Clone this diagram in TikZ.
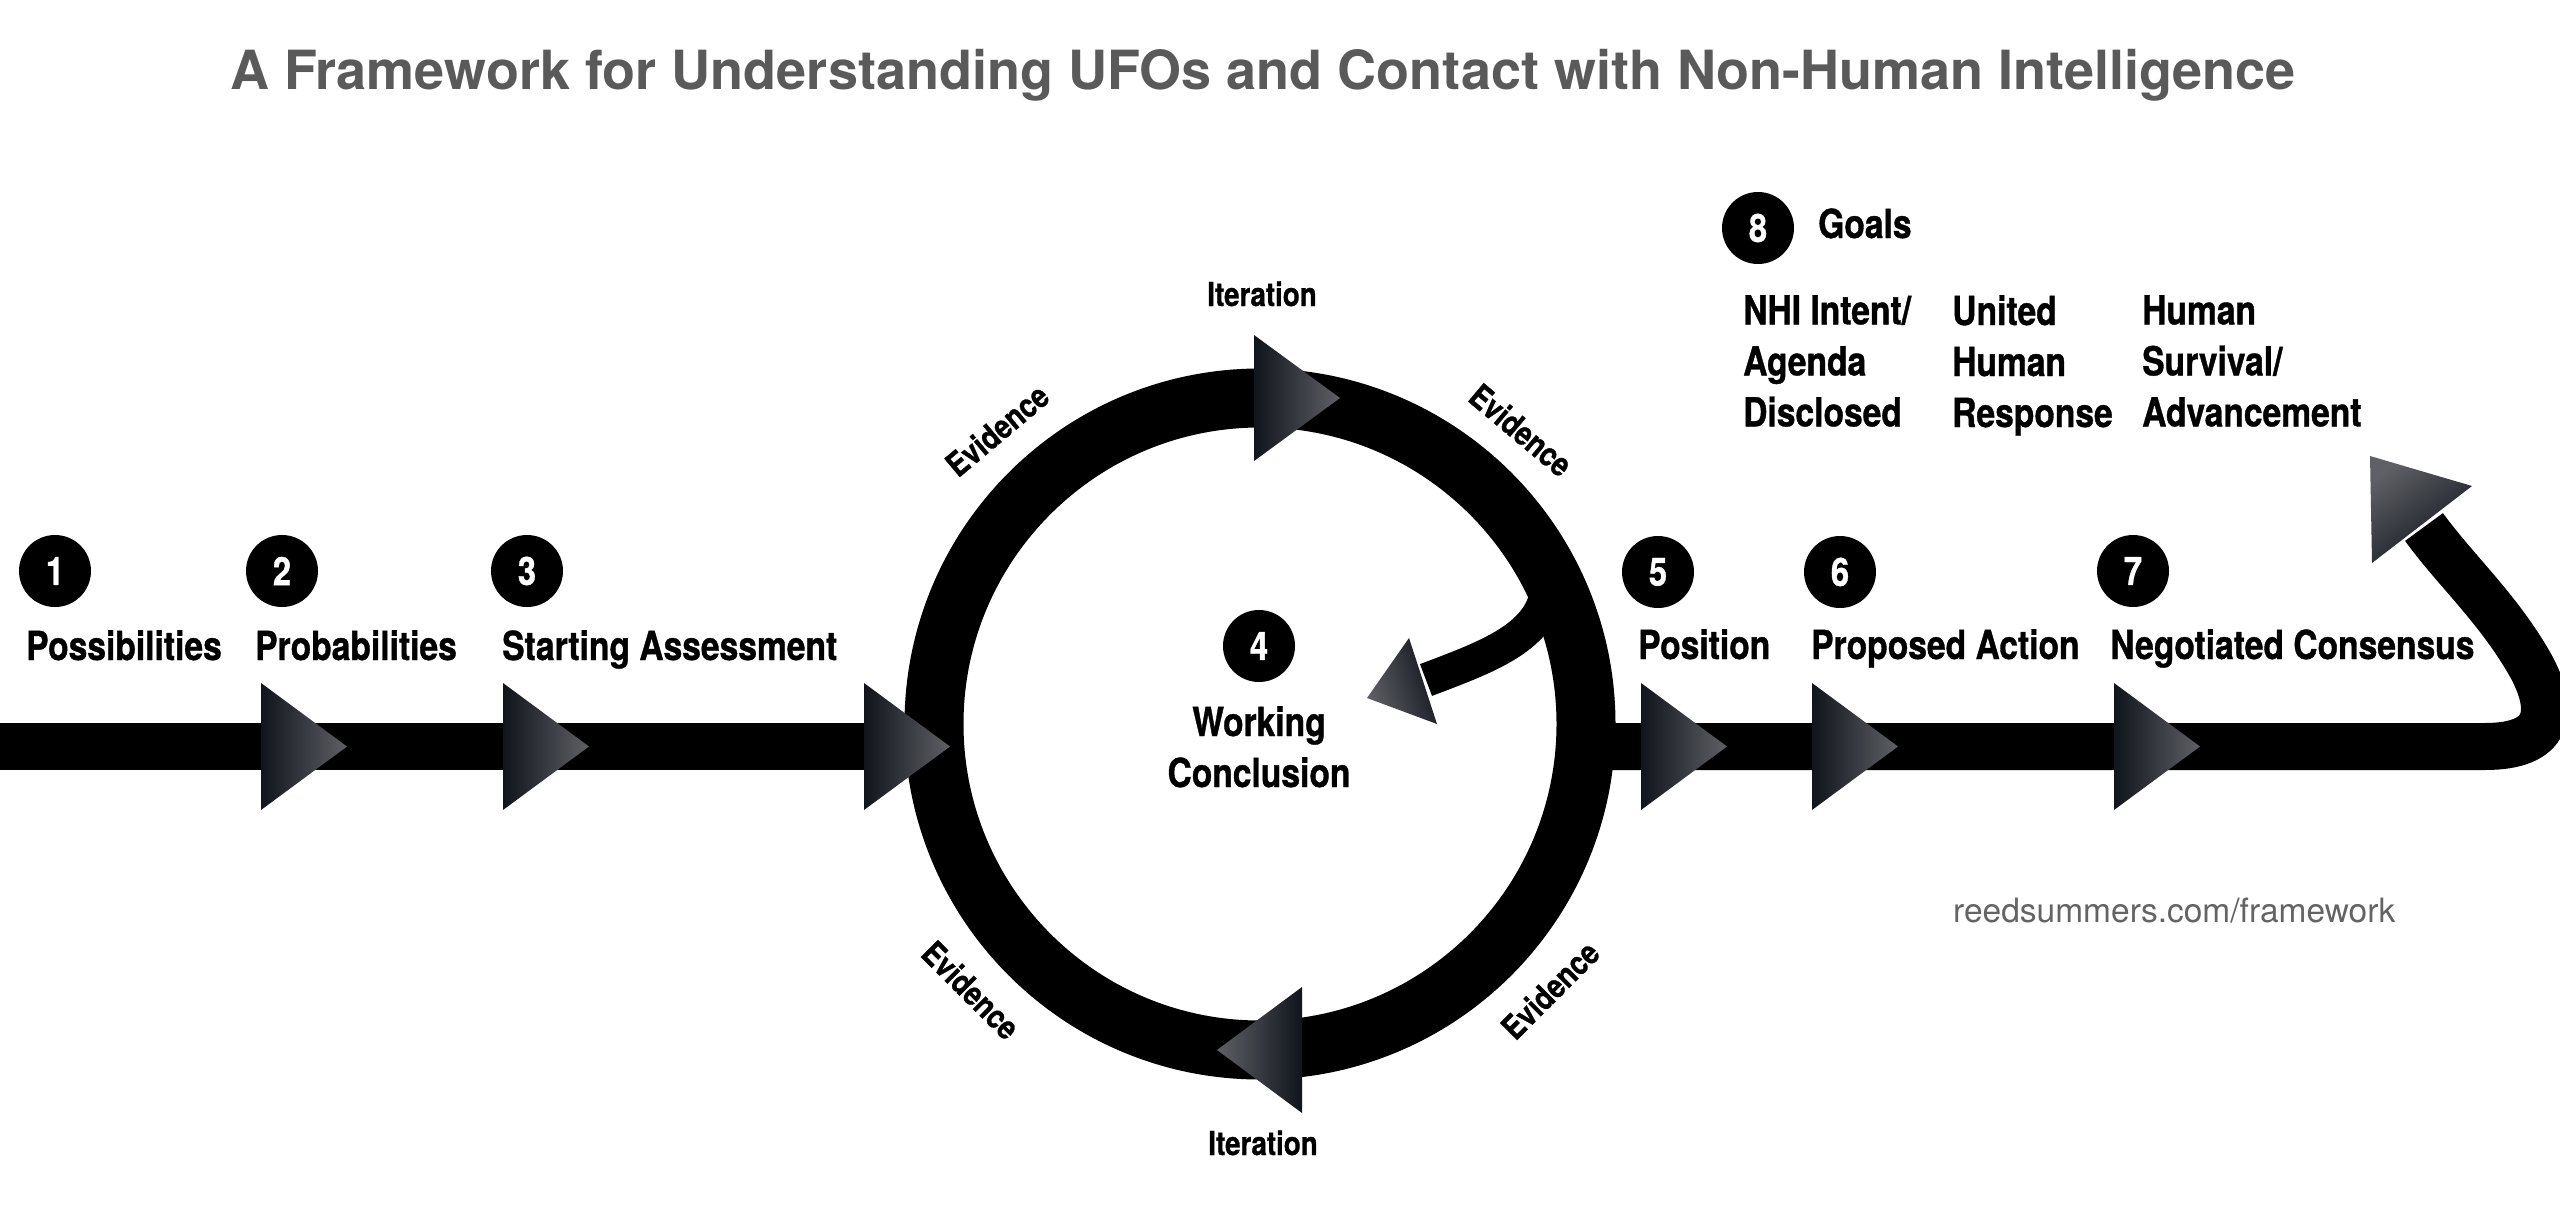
\documentclass[tikz,border=0pt]{standalone}
\usepackage{fontspec}
\setmainfont{TeX Gyre Heros}
\newfontfamily\condfont[FakeStretch=0.84, BoldFeatures={FakeBold=0.9}]{TeX Gyre Heros}
\definecolor{titlegray}{HTML}{5A5A5A}
\definecolor{urlgray}{HTML}{646464}
\definecolor{tipdark}{HTML}{10141B}
\definecolor{tiplight}{HTML}{5E6065}
\tikzset{
  numbadge/.style={circle, fill=black, minimum size=72pt, inner sep=0pt, text=white,
    font=\condfont\bfseries\fontsize{39}{40}\selectfont},
  lbl/.style={anchor=base west, inner sep=0pt, font=\condfont\bfseries\fontsize{40}{51}\selectfont},
  multilbl/.style={anchor=north west, inner sep=0pt, align=left, font=\condfont\bfseries\fontsize{40}{51}\selectfont},
  smalllbl/.style={inner sep=0pt, font=\condfont\bfseries\fontsize{33}{40}\selectfont},
  band/.style={line width=47pt, draw=black},
  ringband/.style={line width=59pt, draw=black},
  branch/.style={line width=34pt, draw=black},
  headR/.style={left color=tipdark, right color=tiplight},
  headL/.style={left color=tiplight, right color=tipdark},
}
\begin{document}
\begin{tikzpicture}[x=1pt,y=-1pt]
\useasboundingbox (0,0) rectangle (2560,1212);
\fill[white] (0,0) rectangle (2560,1212);

% title
\node[anchor=base, inner sep=0pt, text=titlegray, font=\bfseries\fontsize{54}{60}\selectfont] (title) at (1263,90)
  {A Framework for Understanding UFOs and Contact with Non-Human Intelligence};

% coordinates
\coordinate (c) at (1260,724);
\coordinate (lstart) at (-10,746.5);
\coordinate (lend) at (935,746.5);
\coordinate (rstart) at (1590,746.5);
\coordinate (rbend) at (2485,746.5);
\coordinate (rmid) at (2532,668);
\coordinate (rend) at (2424,527);
\coordinate (bstart) at (1548,580);
\coordinate (bend) at (1426,680);

% main band, ring, branch
\draw[band] (lstart) -- (lend);
\draw[ringband] (c) circle[radius=326pt];
\draw[band] (rstart) -- (rbend) .. controls (2550,746.5) and (2555,712) .. (rmid)
  .. controls (2500,610) and (2455,570) .. (rend);
\draw[branch] (bstart) .. controls (1548,635) and (1492,655) .. (bend);

% arrow heads
\shade[headR] (261,683) -- (347,746.5) -- (261,810) -- cycle;
\shade[headR] (503,683) -- (589,746.5) -- (503,810) -- cycle;
\shade[headR] (864,683) -- (950,746.5) -- (864,810) -- cycle;
\shade[headR] (1641,683) -- (1727,746.5) -- (1641,810) -- cycle;
\shade[headR] (1812,683) -- (1898,746.5) -- (1812,810) -- cycle;
\shade[headR] (2114,683) -- (2200,746.5) -- (2114,810) -- cycle;
\shade[headR] (1254,335) -- (1340,398) -- (1254,461) -- cycle;
\shade[headL] (1302,987) -- (1217,1050) -- (1302,1113) -- cycle;
\shade[top color=tipdark, bottom color=tiplight, shading angle=287] (1409,638) -- (1367,698) -- (1437,724) -- cycle;
\shade[top color=tipdark, bottom color=tiplight, shading angle=217] (2472,486) -- (2370,456) -- (2372,563) -- cycle;

% badges
\node[numbadge] (n1) at (55,571) {1};
\node[numbadge] (n2) at (282,571) {2};
\node[numbadge] (n3) at (527,571) {3};
\node[numbadge] (n4) at (1259,646) {4};
\node[numbadge] (n5) at (1658,572) {5};
\node[numbadge] (n6) at (1840,572) {6};
\node[numbadge] (n7) at (2133,571) {7};
\node[numbadge] (n8) at (1758,228) {8};

% step labels
\node[lbl] (l1) at (26,660) {Possibilities};
\node[lbl] (l2) at (255,660) {Probabilities};
\node[lbl] (l3) at (502,660) {Starting Assessment};
\node[lbl] (l5) at (1638,659) {Position};
\node[lbl] (l6) at (1811,659) {Proposed Action};
\node[lbl] (l7) at (2110,659) {Negotiated Consensus};
\node[multilbl, align=center, anchor=north] (l4) at (1259,706) {Working\\Conclusion};

% goals
\node[lbl] (goals) at (1818,238) {Goals};
\node[multilbl] (g1) at (1743,295) {NHI Intent/\\Agenda\\Disclosed};
\node[multilbl] (g2) at (1952,295) {United\\Human\\Response};
\node[multilbl] (g3) at (2142,295) {Human\\Survival/\\Advancement};

% loop labels
\node[smalllbl, anchor=base] (it1) at (1262,306) {Iteration};
\node[smalllbl, anchor=base] (it2) at (1263,1155) {Iteration};
\node[smalllbl, rotate=40] (ev1) at (997,430) {Evidence};
\node[smalllbl, rotate=-40] (ev2) at (1521,430) {Evidence};
\node[smalllbl, rotate=-45] (ev3) at (971,990) {Evidence};
\node[smalllbl, rotate=45] (ev4) at (1550,990) {Evidence};

% url
\node[anchor=base west, inner sep=0pt, text=urlgray, font=\fontsize{33.5}{40}\selectfont] (url) at (1953,922) {reedsummers.com/framework};
\end{tikzpicture}
\end{document}
